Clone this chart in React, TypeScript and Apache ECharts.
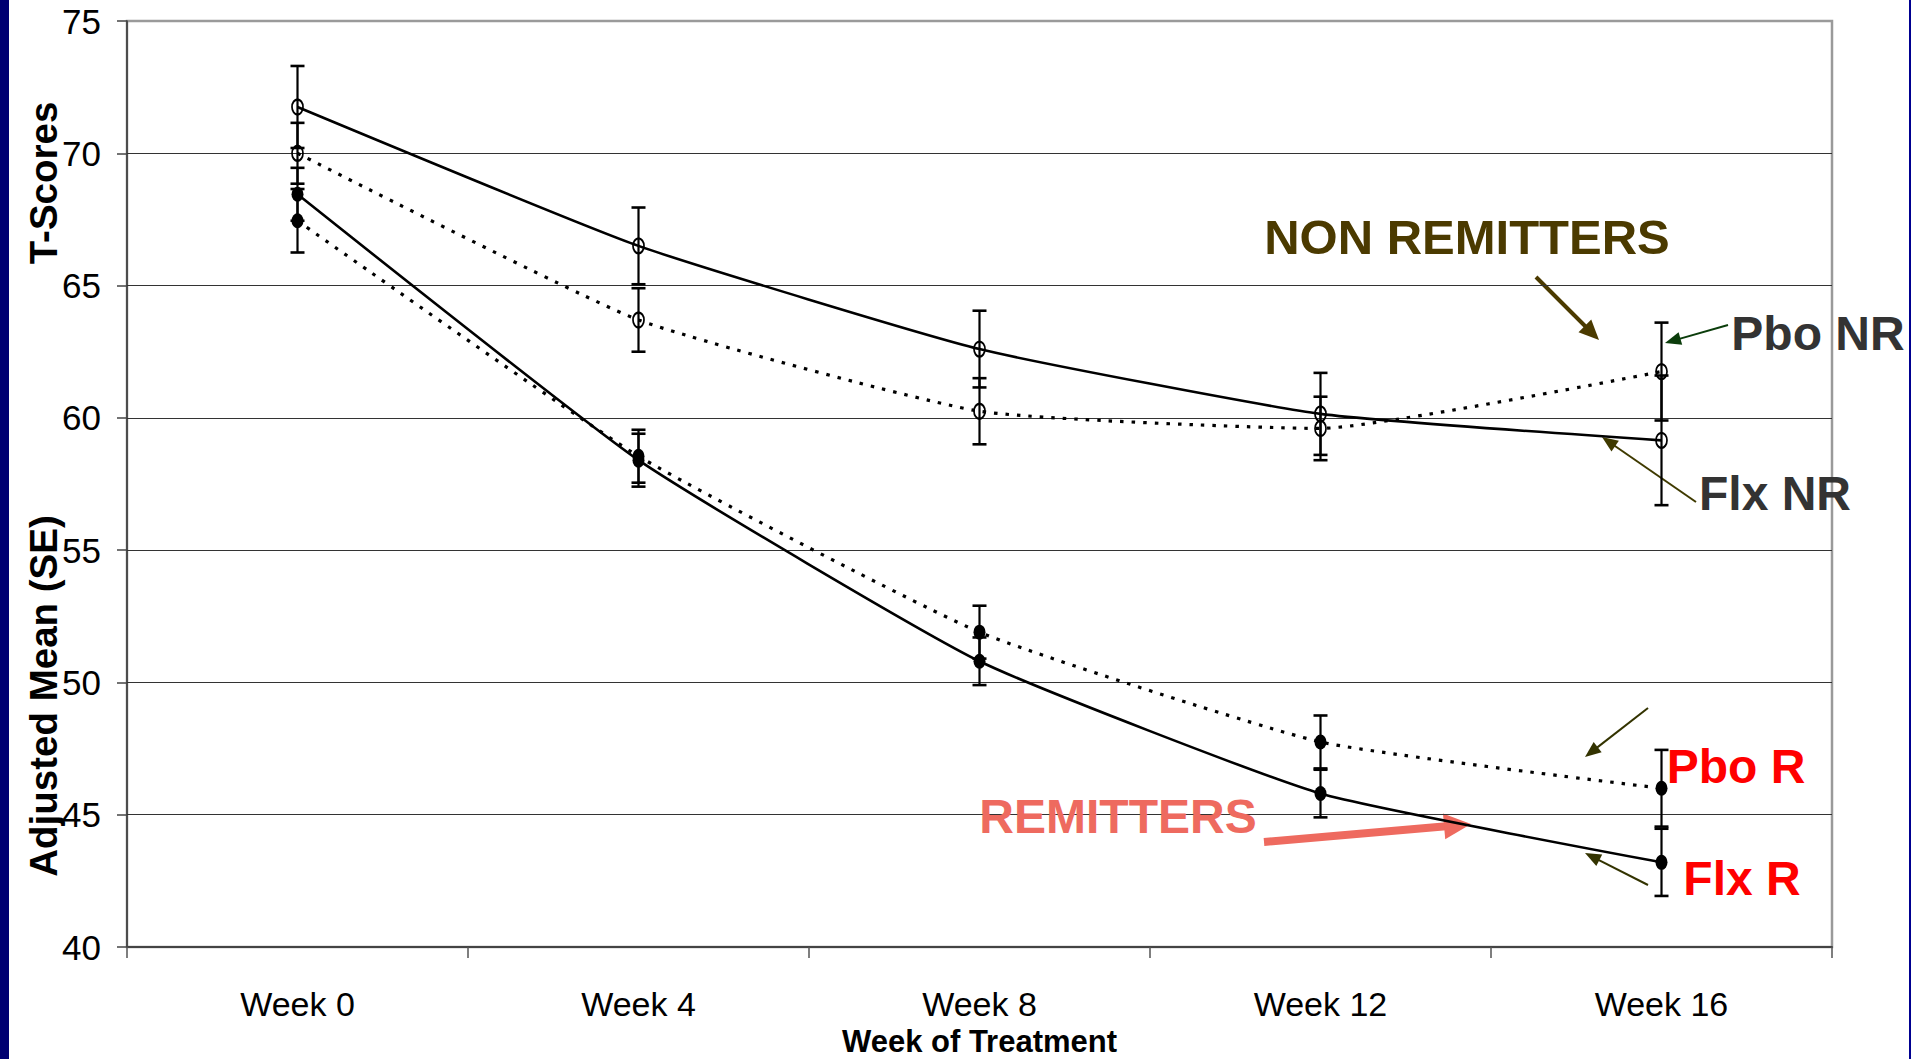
import React, { useEffect, useRef } from "react";
import * as echarts from "echarts";

const weeks = ["Week 0", "Week 4", "Week 8", "Week 12", "Week 16"];

const flxNR = [71.75, 66.5, 62.6, 60.15, 59.15];
const flxNRse = [1.55, 1.45, 1.45, 1.55, 2.45];
const pboNR = [70.0, 63.7, 60.25, 59.6, 61.75];
const pboNRse = [1.15, 1.2, 1.25, 1.2, 1.85];
const flxR = [68.45, 58.4, 50.8, 45.8, 43.2];
const flxRse = [1.0, 1.0, 0.9, 0.9, 1.27];
const pboR = [67.45, 58.55, 51.9, 47.75, 46.0];
const pboRse = [1.2, 1.0, 1.0, 1.0, 1.45];

const yMin = 40;
const yMax = 75;
const yStep = 5;

const NARROW = "'Liberation Sans Narrow', 'Liberation Sans', Arial, sans-serif";
const SANS = "'Liberation Sans', Arial, sans-serif";
const ELLIPSE = "path://M5,0 A5,6.5 0 1,1 5,13 A5,6.5 0 1,1 5,0 Z";

function errData(means: number[], se: number[]) {
  return means.map((m, i) => [i, m - se[i], m + se[i]]);
}

function errSeries(name: string, means: number[], se: number[]) {
  return {
    name: name + " SE",
    type: "custom",
    silent: true,
    z: 1,
    encode: { x: 0, y: [1, 2] },
    data: errData(means, se),
    renderItem: (params: any, api: any) => {
      const x = api.value(0);
      const lo = api.coord([x, api.value(1)]);
      const hi = api.coord([x, api.value(2)]);
      const hw = 7;
      const st = { stroke: "#000", lineWidth: 2.2 };
      return {
        type: "group",
        children: [
          { type: "line", shape: { x1: lo[0], y1: lo[1], x2: hi[0], y2: hi[1] }, style: st },
          { type: "line", shape: { x1: lo[0] - hw, y1: lo[1], x2: lo[0] + hw, y2: lo[1] }, style: { stroke: "#000", lineWidth: 2.6 } },
          { type: "line", shape: { x1: hi[0] - hw, y1: hi[1], x2: hi[0] + hw, y2: hi[1] }, style: { stroke: "#000", lineWidth: 2.6 } },
        ],
      };
    },
  };
}

function lineSeries(name: string, data: number[], dotted: boolean, filled: boolean) {
  return {
    name,
    type: "line",
    z: 3,
    data,
    smooth: 0.15,
    symbol: ELLIPSE,
    symbolSize: filled ? [12, 15] : [11, 15],
    itemStyle: filled
      ? { color: "#000", borderColor: "#000", borderWidth: 0 }
      : { color: "rgba(0,0,0,0)", borderColor: "#000", borderWidth: 2 },
    lineStyle: dotted
      ? { color: "#000", width: 3.2, type: [3.5, 8], cap: "butt" }
      : { color: "#000", width: 2.6, type: "solid" },
  };
}

function arrow(x1: number, y1: number, x2: number, y2: number, color: string, w: number, hl: number, hw: number) {
  const dx = x2 - x1;
  const dy = y2 - y1;
  const len = Math.sqrt(dx * dx + dy * dy);
  const ux = dx / len;
  const uy = dy / len;
  const bx = x2 - ux * hl;
  const by = y2 - uy * hl;
  const px = -uy;
  const py = ux;
  return [
    { type: "line", shape: { x1, y1, x2: bx + ux * 2, y2: by + uy * 2 }, style: { stroke: color, lineWidth: w } },
    {
      type: "polygon",
      shape: {
        points: [
          [x2, y2],
          [bx + px * hw / 2, by + py * hw / 2],
          [bx - px * hw / 2, by - py * hw / 2],
        ],
      },
      style: { fill: color },
    },
  ];
}

function label(text: string, x: number, y: number, size: number, fill: string, shadow: boolean, family = SANS) {
  const style: any = {
    text,
    fill,
    fontSize: size,
    fontWeight: "bold",
    fontFamily: family,
    textAlign: "center",
    textVerticalAlign: "middle",
  };
  if (shadow) {
    style.shadowColor = "rgba(0,0,0,0.85)";
    style.shadowOffsetX = 2;
    style.shadowOffsetY = 2;
    style.shadowBlur = 1;
  }
  return { type: "text", x, y, style, z: 10 };
}

export default function App() {
  const ref = useRef<HTMLDivElement>(null);

  useEffect(() => {
    document.body.style.margin = "0";
    document.body.style.overflow = "hidden";
    if (!ref.current) return;
    const chart = echarts.init(ref.current, undefined, { renderer: "svg" });

    const graphic: any[] = [
      { type: "rect", shape: { x: 0, y: 0, width: 9, height: 1059 }, style: { fill: "#000072" }, z: 0 },
      { type: "rect", shape: { x: 1909, y: 0, width: 2, height: 1059 }, style: { fill: "#000090" }, z: 0 },
      {
        type: "text",
        x: 43,
        y: 696,
        rotation: Math.PI / 2,
        style: {
          text: "Adjusted Mean (SE)",
          fill: "#000",
          fontSize: 38.5,
          fontWeight: "bold",
          fontFamily: SANS,
          textAlign: "center",
          textVerticalAlign: "middle",
        },
      },
      {
        type: "text",
        x: 43,
        y: 183,
        rotation: Math.PI / 2,
        style: {
          text: "T-Scores",
          fill: "#000",
          fontSize: 38.5,
          fontWeight: "bold",
          fontFamily: SANS,
          textAlign: "center",
          textVerticalAlign: "middle",
        },
      },
      label("NON REMITTERS", 1467, 237, 49, "#4B3A00", true),
      label("Pbo NR", 1818, 333, 48, "#333333", true),
      label("Flx NR", 1775, 493, 48, "#333333", true),
      label("Pbo R", 1736, 766, 48, "#FF0000", true),
      label("Flx R", 1742, 878, 48, "#FF0000", true),
      label("REMITTERS", 1118, 816, 48, "#EE6A5F", false),
      ...arrow(1536, 277, 1599, 340, "#4B3A00", 4, 20, 18),
      ...arrow(1728, 325, 1665, 343, "#0B3D0B", 2, 16, 13),
      ...arrow(1696, 502, 1602, 437, "#3F3A00", 2, 16, 13),
      ...arrow(1648, 708, 1585, 757, "#333300", 2, 16, 13),
      ...arrow(1648, 885, 1585, 853, "#333300", 2, 16, 13),
      ...arrow(1264, 842, 1471, 824, "#EE6A5F", 8, 27, 26),
    ];

    chart.setOption({
      animation: false,
      backgroundColor: "#ffffff",
      grid: {
        left: 127,
        top: 21,
        right: 79,
        bottom: 112,
        containLabel: false,
        outerBoundsMode: "none",
        show: true,
        borderColor: "#9a9a9a",
        borderWidth: 2.5,
        backgroundColor: "transparent",
      },
      xAxis: {
        type: "category",
        data: weeks,
        boundaryGap: true,
        name: "Week of Treatment",
        nameLocation: "middle",
        nameGap: 60,
        nameTextStyle: { fontSize: 31, fontWeight: "bold", fontFamily: NARROW, color: "#000" },
        axisLine: { show: true, lineStyle: { color: "#444", width: 2 } },
        axisTick: { show: true, alignWithLabel: false, length: 11, lineStyle: { color: "#555", width: 1.5 } },
        axisLabel: { fontSize: 34, fontFamily: NARROW, color: "#000", margin: 40 },
        splitLine: { show: false },
      },
      yAxis: {
        type: "value",
        min: yMin,
        max: yMax,
        interval: yStep,
        axisLine: { show: true, lineStyle: { color: "#333", width: 1.5 } },
        axisTick: { show: true, length: 10, lineStyle: { color: "#444", width: 1.5 } },
        axisLabel: { fontSize: 35, fontFamily: NARROW, color: "#000", margin: 26 },
        splitLine: { show: true, showMaxLine: false, showMinLine: false, lineStyle: { color: "#333", width: 1.2 } },
      },
      series: [
        errSeries("Flx NR", flxNR, flxNRse),
        errSeries("Pbo NR", pboNR, pboNRse),
        errSeries("Flx R", flxR, flxRse),
        errSeries("Pbo R", pboR, pboRse),
        lineSeries("Flx NR", flxNR, false, false),
        lineSeries("Pbo NR", pboNR, true, false),
        lineSeries("Flx R", flxR, false, true),
        lineSeries("Pbo R", pboR, true, true),
      ],
      graphic,
    });

    return () => chart.dispose();
  }, []);

  return <div ref={ref} style={{ width: 1911, height: 1059 }} />;
}
